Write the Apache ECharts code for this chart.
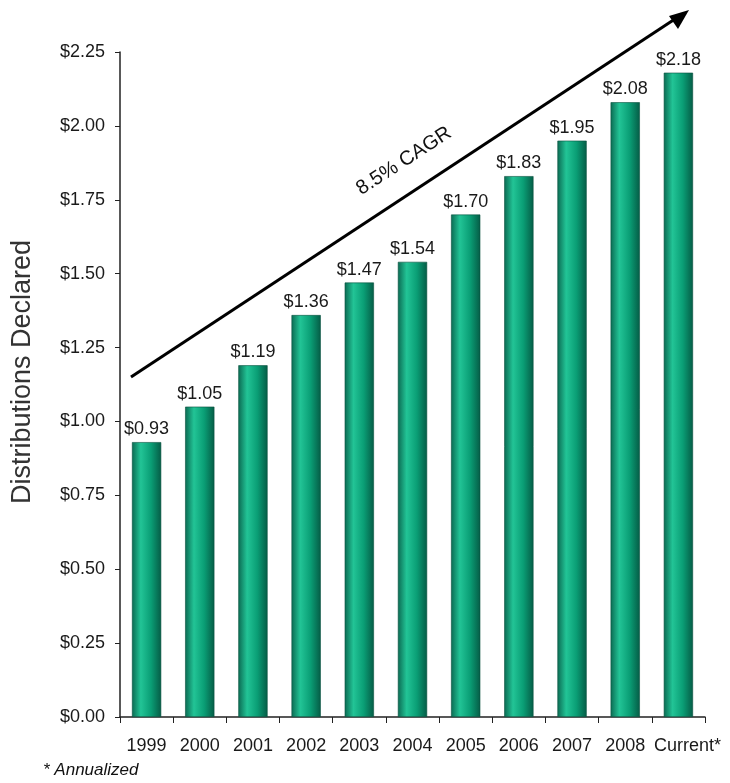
<!DOCTYPE html>
<html><head><meta charset="utf-8">
<script src="https://cdn.jsdelivr.net/npm/echarts@6/dist/echarts.min.js"></script>
<style>html,body{margin:0;padding:0;background:#fff}#c{width:730px;height:783px}</style>
</head><body><div id="c"></div>
<script>
const categories = ['1999','2000','2001','2002','2003','2004','2005','2006','2007','2008','Current*'];
const distributions = [0.93,1.05,1.19,1.36,1.47,1.54,1.70,1.83,1.95,2.08,2.18];
const yTicks = [0,0.25,0.5,0.75,1,1.25,1.5,1.75,2,2.25];
const chart = echarts.init(document.getElementById('c'));
const font = 'Liberation Sans, Arial, sans-serif';
chart.setOption({
  animation:false,
  grid:{left:120,right:25,top:52,bottom:66},
  xAxis:{type:'category',data:categories,
    axisLine:{lineStyle:{color:'#222',width:1.5}},
    axisTick:{show:true,length:6,lineStyle:{color:'#222'}},
    axisLabel:{color:'#1a1a1a',fontFamily:font,fontSize:18,margin:20,interval:0,
      formatter:(v,i)=> i===categories.length-1 ? '{c|'+v+'}' : v,
      rich:{c:{fontFamily:font,fontSize:18,color:'#1a1a1a',padding:[0,0,0,18]}}}},
  yAxis:{type:'value',min:yTicks[0],max:yTicks[yTicks.length-1],interval:0.25,
    splitLine:{show:false},
    axisLine:{show:true,lineStyle:{color:'#222',width:1.5}},
    axisTick:{show:true,length:5,lineStyle:{color:'#222'}},
    axisLabel:{color:'#1a1a1a',fontFamily:font,fontSize:18,margin:15,
      formatter:v=>'$'+v.toFixed(2)}},
  series:[{type:'bar',data:distributions,barWidth:'55%',
    itemStyle:{borderColor:'#08503e',borderWidth:0.6,
      color:new echarts.graphic.LinearGradient(0,0,1,0,[
        {offset:0,color:'#0b6a52'},{offset:0.3,color:'#22c496'},
        {offset:0.65,color:'#0a9e75'},{offset:1,color:'#055c46'}])},
    label:{show:true,position:'top',distance:4,color:'#1a1a1a',fontFamily:font,fontSize:18,
      formatter:p=>'$'+p.value.toFixed(2)}}],
  graphic:[
    {type:'text',x:23,y:372,rotation:Math.PI/2,
      style:{text:'Distributions Declared',font:'27px '+font,fill:'#333',align:'center',verticalAlign:'middle'}},
    {type:'line',shape:{x1:131,y1:377,x2:678,y2:17},style:{stroke:'#000',lineWidth:3}},
    {type:'polygon',shape:{points:[[689,10],[669,16],[678,29]]},style:{fill:'#000'}},
    {type:'text',x:404,y:161,rotation:33*Math.PI/180,
      style:{text:'8.5% CAGR',font:'20px '+font,fill:'#111',align:'center',verticalAlign:'middle'}},
    {type:'text',x:43,y:770,style:{text:'* Annualized',font:'italic 17px '+font,fill:'#111',verticalAlign:'middle'}}
  ]
});
</script></body></html>
